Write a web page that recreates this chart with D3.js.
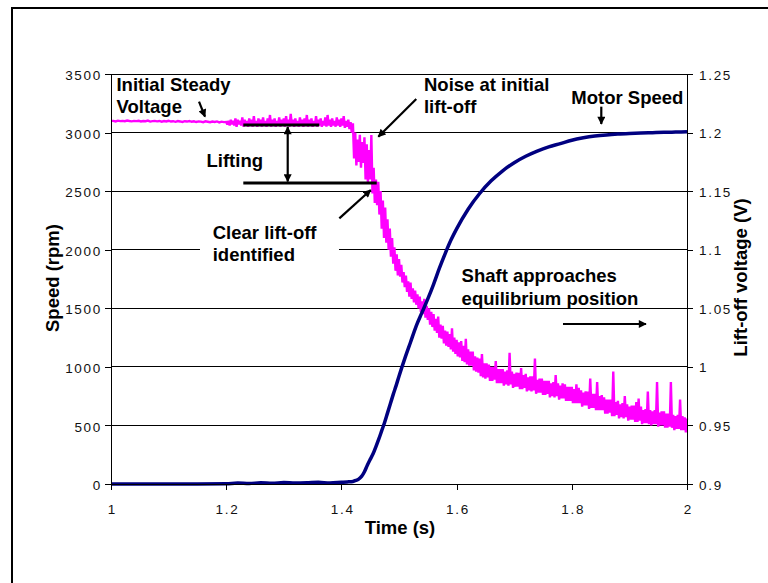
<!DOCTYPE html>
<html>
<head>
<meta charset="utf-8">
<script src="https://cdn.jsdelivr.net/npm/d3@7"></script>
<style>
  html, body { margin: 0; padding: 0; background: #fff; }
  svg { display: block; }
  text { font-family: "Liberation Sans", Arial, Helvetica, sans-serif; }
</style>
</head>
<body>
<svg id="chart" width="768" height="583"></svg>
<script>
// ---- tick labels ----
const timeTicks = [1, 1.2, 1.4, 1.6, 1.8, 2];
const speedTicks = [0, 500, 1000, 1500, 2000, 2500, 3000, 3500];
const voltTicks = [0.9, 0.95, 1, 1.05, 1.1, 1.15, 1.2, 1.25];

// ---- motor speed (rpm) against time (s) ----
const speedTime = [1.00, 1.05, 1.10, 1.15, 1.20,
  1.22, 1.24, 1.26, 1.28, 1.30, 1.32, 1.34, 1.36, 1.38, 1.40,
  1.41, 1.42,
  1.425, 1.43, 1.435, 1.44, 1.445, 1.45, 1.455, 1.46, 1.465, 1.47, 1.475, 1.48, 1.485, 1.49, 1.495, 1.50,
  1.51, 1.52, 1.53, 1.54, 1.55, 1.56, 1.57, 1.58, 1.59, 1.60,
  1.62, 1.64, 1.66, 1.68, 1.70, 1.72, 1.74, 1.76, 1.78, 1.80,
  1.82, 1.84, 1.86, 1.88, 1.90, 1.92, 1.94, 1.96, 1.98, 2.00];
const speedRpm = [0, 0, 0, 0, 2,
  8, 5, 10, 6, 12, 8, 10, 14, 9, 15,
  18, 22,
  30, 42, 65, 105, 160, 210, 258, 320, 385, 455, 525, 605, 685, 765, 840, 920,
  1070, 1210, 1350, 1465, 1580, 1705, 1840, 1965, 2080, 2178,
  2346, 2480, 2588, 2674, 2743, 2798, 2842, 2878, 2906, 2935,
  2955, 2970, 2980, 2987, 2992, 2996, 2999, 3002, 3004, 3006];

// ---- lift-off voltage (V) ----
// steady part, every 4 ms from t = 1.000 s
const steadyStart = 1.0;
const steadyStep = 0.004;
const steadyVolt = [
  1.2100, 1.2100, 1.2095, 1.2102, 1.2098, 1.2100, 1.2097, 1.2103, 1.2099, 1.2096,
  1.2100, 1.2098, 1.2101, 1.2095, 1.2099, 1.2097, 1.2102, 1.2094, 1.2098, 1.2100,
  1.2096, 1.2099, 1.2093, 1.2098, 1.2095, 1.2101, 1.2094, 1.2097, 1.2092, 1.2098,
  1.2095, 1.2091, 1.2097, 1.2094, 1.2099, 1.2092, 1.2096, 1.2090, 1.2095, 1.2093,
  1.2089, 1.2096, 1.2092, 1.2088, 1.2094, 1.2090, 1.2095, 1.2087, 1.2093, 1.2089,
  1.2091
];
// noisy part, every 2 ms from t = 1.202 s
const liftStart = 1.202;
const liftStep = 0.002;
const liftVolt = [
  // 1.202 - 1.416 s: lifting
  1.207, 1.210, 1.206, 1.211, 1.207, 1.210, 1.206, 1.212, 1.205, 1.211, 1.207, 1.210, 1.206, 1.213, 1.205, 1.211, 1.206, 1.210, 1.205, 1.212,
  1.206, 1.211, 1.205, 1.214, 1.206, 1.210, 1.205, 1.212, 1.206, 1.211, 1.205, 1.213, 1.206, 1.210, 1.205, 1.212, 1.206, 1.215, 1.205, 1.211,
  1.206, 1.212, 1.205, 1.210, 1.206, 1.213, 1.205, 1.211, 1.206, 1.212, 1.205, 1.214, 1.206, 1.211, 1.205, 1.216, 1.206, 1.211, 1.205, 1.212,
  1.206, 1.210, 1.205, 1.213, 1.206, 1.211, 1.205, 1.212, 1.206, 1.215, 1.205, 1.211, 1.206, 1.212, 1.205, 1.210, 1.206, 1.214, 1.205, 1.211,
  1.206, 1.212, 1.205, 1.210, 1.206, 1.213, 1.205, 1.215, 1.206, 1.211, 1.205, 1.212, 1.206, 1.210, 1.205, 1.213, 1.206, 1.211, 1.205, 1.212,
  1.206, 1.214, 1.204, 1.210, 1.205, 1.211, 1.203, 1.209,
  // 1.418 - 1.500 s: lift-off
  1.200, 1.208, 1.178, 1.200, 1.172, 1.194, 1.175, 1.198, 1.170, 1.192, 1.174, 1.196, 1.160, 1.190, 1.157, 1.185, 1.160, 1.198, 1.148, 1.170,
  1.140, 1.160, 1.138, 1.158, 1.130, 1.150, 1.118, 1.142, 1.110, 1.136, 1.106, 1.126, 1.100, 1.118, 1.094, 1.110, 1.088, 1.102, 1.082, 1.096,
  1.078, 1.092,
  // 1.502 - 2.000 s: settling towards equilibrium
  1.077, 1.087, 1.072, 1.081, 1.068, 1.078, 1.064, 1.073, 1.060, 1.072, 1.058, 1.067, 1.055, 1.065, 1.053, 1.062, 1.050, 1.060, 1.047, 1.056,
  1.045, 1.058, 1.042, 1.052, 1.040, 1.050, 1.036, 1.047, 1.034, 1.045, 1.031, 1.041, 1.029, 1.043, 1.025, 1.036, 1.024, 1.035, 1.020, 1.031,
  1.018, 1.030, 1.017, 1.028, 1.015, 1.033, 1.013, 1.025, 1.011, 1.023, 1.009, 1.021, 1.008, 1.022, 1.005, 1.018, 1.004, 1.024, 1.002, 1.015,
  1.001, 1.013, 1.001, 1.013, 0.997, 1.009, 0.996, 1.008, 0.995, 1.007, 0.992, 1.011, 0.991, 1.003, 0.990, 1.003, 0.991, 1.002, 0.988, 1.000,
  0.988, 1.000, 0.989, 1.005, 0.986, 0.998, 0.986, 0.998, 0.986, 0.998, 0.984, 0.996, 0.985, 0.997, 0.984, 1.012, 0.985, 0.996, 0.982, 0.994,
  0.983, 0.995, 0.983, 0.995, 0.981, 0.999, 0.981, 0.993, 0.982, 0.994, 0.979, 0.991, 0.980, 0.992, 0.979, 0.992, 0.980, 1.007, 0.977, 0.989,
  0.978, 0.990, 0.978, 0.990, 0.976, 0.988, 0.976, 0.988, 0.977, 0.988, 0.974, 0.986, 0.975, 0.987, 0.974, 0.993, 0.975, 0.986, 0.972, 0.984,
  0.973, 0.986, 0.973, 0.985, 0.971, 0.983, 0.971, 0.983, 0.971, 0.983, 0.969, 0.981, 0.969, 0.985, 0.969, 0.982, 0.969, 0.980, 0.966, 0.978,
  0.967, 0.979, 0.967, 0.979, 0.964, 0.990, 0.965, 0.977, 0.965, 0.977, 0.963, 0.987, 0.963, 0.975, 0.963, 0.976, 0.963, 0.974, 0.960, 0.972,
  0.960, 0.972, 0.961, 0.972, 0.958, 0.996, 0.958, 0.970, 0.959, 0.971, 0.956, 0.968, 0.957, 0.969, 0.956, 0.975, 0.957, 0.968, 0.954, 0.966,
  0.955, 0.967, 0.955, 0.967, 0.953, 0.970, 0.953, 0.973, 0.954, 0.966, 0.951, 0.963, 0.952, 0.964, 0.952, 0.979, 0.951, 0.963, 0.950, 0.962,
  0.951, 0.963, 0.951, 0.987, 0.949, 0.961, 0.950, 0.962, 0.950, 0.962, 0.948, 0.960, 0.948, 0.960, 0.949, 0.987, 0.948, 0.959, 0.946, 0.958,
  0.947, 0.959, 0.947, 0.972, 0.946, 0.958, 0.946, 0.957, 0.944, 0.956
];

// ---- annotations, placed in time / voltage units ----
const noteTexts = [
  { text: "Initial Steady", t: 1.0095, v: 1.2359 },
  { text: "Voltage", t: 1.0095, v: 1.2165 },
  { text: "Lifting", t: 1.1658, v: 1.1709 },
  { text: "Clear lift-off", t: 1.1766, v: 1.1091 },
  { text: "identified", t: 1.1766, v: 1.0904 },
  { text: "Noise at initial", t: 1.5434, v: 1.2359 },
  { text: "lift-off", t: 1.5434, v: 1.2165 },
  { text: "Motor Speed", t: 1.7991, v: 1.2247 },
  { text: "Shaft approaches", t: 1.6087, v: 1.0725 },
  { text: "equilibrium position", t: 1.6087, v: 1.0525 }
];
const noteBars = [
  { t0: 1.2297, v0: 1.2065, t1: 1.3616, v1: 1.2065 },
  { t0: 1.2297, v0: 1.1570, t1: 1.4613, v1: 1.1570 }
];
const noteArrows = [
  { t0: 1.1528, v0: 1.2264, t1: 1.1632, v1: 1.2136, both: false },
  { t0: 1.3068, v0: 1.2048, t1: 1.3068, v1: 1.1582, both: true },
  { t0: 1.3964, v0: 1.1268, t1: 1.4509, v1: 1.1510, both: false },
  { t0: 1.5300, v0: 1.2287, t1: 1.4641, v1: 1.1965, both: false },
  { t0: 1.8512, v0: 1.2221, t1: 1.8512, v1: 1.2073, both: false },
  { t0: 1.7847, v0: 1.0366, t1: 1.9288, v1: 1.0366, both: false }
];
const labelMask = { t0: 1.1545, v0: 1.1305, t1: 1.3958, v1: 1.0844 };

// ---- layout ----
const plot = { left: 111, right: 687, top: 74, bottom: 484 };
const tickFont = 13.5, tickSpacing = 1.7;
const boldFont = 18.5;

const svg = d3.select("#chart");

const x = d3.scaleLinear().domain([1, 2]).range([plot.left, plot.right]);
const ySpeed = d3.scaleLinear().domain([0, 3500]).range([plot.bottom, plot.top]);
const yVolt = d3.scaleLinear().domain([0.9, 1.25]).range([plot.bottom, plot.top]);

// outer frame of the figure
svg.append("rect")
  .attr("x", 12).attr("y", 8)
  .attr("width", 800).attr("height", 620)
  .attr("fill", "#fff").attr("stroke", "#000").attr("stroke-width", 2);

// horizontal grid
svg.append("g")
  .selectAll("line")
  .data(speedTicks)
  .join("line")
  .attr("x1", plot.left).attr("x2", plot.right)
  .attr("y1", d => ySpeed(d)).attr("y2", d => ySpeed(d))
  .attr("stroke", "#000").attr("stroke-width", 1)
  .attr("shape-rendering", "crispEdges");

// white backing behind the "Clear lift-off" label
svg.append("rect")
  .attr("x", x(labelMask.t0)).attr("y", yVolt(labelMask.v0))
  .attr("width", x(labelMask.t1) - x(labelMask.t0))
  .attr("height", yVolt(labelMask.v1) - yVolt(labelMask.v0))
  .attr("fill", "#fff");

// plot frame
svg.append("rect")
  .attr("x", plot.left).attr("y", plot.top)
  .attr("width", plot.right - plot.left).attr("height", plot.bottom - plot.top)
  .attr("fill", "none").attr("stroke", "#000").attr("stroke-width", 1)
  .attr("shape-rendering", "crispEdges");

// lift-off voltage trace
const voltPoints = steadyVolt.map((v, i) => [steadyStart + i * steadyStep, v])
  .concat(liftVolt.map((v, i) => [liftStart + i * liftStep, v]));
svg.append("path")
  .datum(voltPoints)
  .attr("d", d3.line().x(d => x(d[0])).y(d => yVolt(d[1])))
  .attr("fill", "none")
  .attr("stroke", "#FF00FF")
  .attr("stroke-width", 2.4)
  .attr("stroke-linejoin", "miter")
  .attr("stroke-miterlimit", 2);

// motor speed trace
const speedLine = d3.line()
  .x(d => x(d[0]))
  .y(d => ySpeed(d[1]))
  .curve(d3.curveMonotoneX);
svg.append("path")
  .datum(d3.zip(speedTime, speedRpm))
  .attr("d", speedLine)
  .attr("fill", "none")
  .attr("stroke", "#000080")
  .attr("stroke-width", 3.5)
  .attr("stroke-linejoin", "round");

// axes
function styleAxis(g) {
  g.selectAll("path.domain").attr("stroke", "#000").attr("shape-rendering", "crispEdges");
  g.selectAll(".tick line").attr("stroke", "#000").attr("shape-rendering", "crispEdges");
  g.selectAll(".tick text")
    .attr("fill", "#111")
    .style("font-size", tickFont + "px")
    .style("letter-spacing", tickSpacing + "px")
    .style("font-family", '"Liberation Sans", Arial, sans-serif');
}

svg.append("g")
  .attr("transform", `translate(${plot.left},0)`)
  .call(d3.axisLeft(ySpeed).tickValues(speedTicks).tickFormat(String)
    .tickSize(6).tickSizeOuter(0).tickPadding(3))
  .call(styleAxis)
  .call(g => g.selectAll(".tick text").attr("dy", "0.42em"));

svg.append("g")
  .attr("transform", `translate(${plot.right},0)`)
  .call(d3.axisRight(yVolt).tickValues(voltTicks).tickFormat(String)
    .tickSize(6).tickSizeOuter(0).tickPadding(6))
  .call(styleAxis)
  .call(g => g.selectAll(".tick text").attr("dy", "0.38em"));

svg.append("g")
  .attr("transform", `translate(0,${plot.bottom})`)
  .call(d3.axisBottom(x).tickValues(timeTicks).tickFormat(String)
    .tickSize(6).tickSizeOuter(0).tickPadding(14))
  .call(styleAxis)
  .call(g => g.selectAll(".tick text").attr("dx", tickSpacing / 2));

// axis titles
const boldStyle = sel => sel
  .attr("fill", "#000")
  .style("font-size", boldFont + "px")
  .style("font-weight", "bold");

svg.append("text")
  .attr("x", (plot.left + plot.right) / 2 + 1)
  .attr("y", 533.5)
  .attr("text-anchor", "middle")
  .text("Time (s)")
  .call(boldStyle);

svg.append("text")
  .attr("transform", "translate(58.5,278) rotate(-90)")
  .attr("text-anchor", "middle")
  .text("Speed (rpm)")
  .call(boldStyle);

svg.append("text")
  .attr("transform", "translate(747,277.5) rotate(-90)")
  .attr("text-anchor", "middle")
  .text("Lift-off voltage (V)")
  .call(boldStyle);

// arrowhead marker
const defs = svg.append("defs");
defs.append("marker")
  .attr("id", "head")
  .attr("viewBox", "0 0 10 10")
  .attr("refX", 9).attr("refY", 5)
  .attr("markerUnits", "userSpaceOnUse")
  .attr("markerWidth", 9).attr("markerHeight", 8)
  .attr("orient", "auto-start-reverse")
  .append("path")
  .attr("d", "M0,0 L10,5 L0,10 Z")
  .attr("fill", "#000");

// annotation bars
svg.append("g")
  .selectAll("line")
  .data(noteBars)
  .join("line")
  .attr("x1", d => x(d.t0)).attr("y1", d => yVolt(d.v0))
  .attr("x2", d => x(d.t1)).attr("y2", d => yVolt(d.v1))
  .attr("stroke", "#000").attr("stroke-width", 3);

// annotation arrows
svg.append("g")
  .selectAll("line")
  .data(noteArrows)
  .join("line")
  .attr("x1", d => x(d.t0)).attr("y1", d => yVolt(d.v0))
  .attr("x2", d => x(d.t1)).attr("y2", d => yVolt(d.v1))
  .attr("stroke", "#000").attr("stroke-width", 2.2)
  .attr("marker-end", "url(#head)")
  .attr("marker-start", d => d.both ? "url(#head)" : null);

// annotation texts
svg.append("g")
  .selectAll("text")
  .data(noteTexts)
  .join("text")
  .attr("x", d => x(d.t))
  .attr("y", d => yVolt(d.v))
  .text(d => d.text)
  .call(boldStyle);
</script>
</body>
</html>
